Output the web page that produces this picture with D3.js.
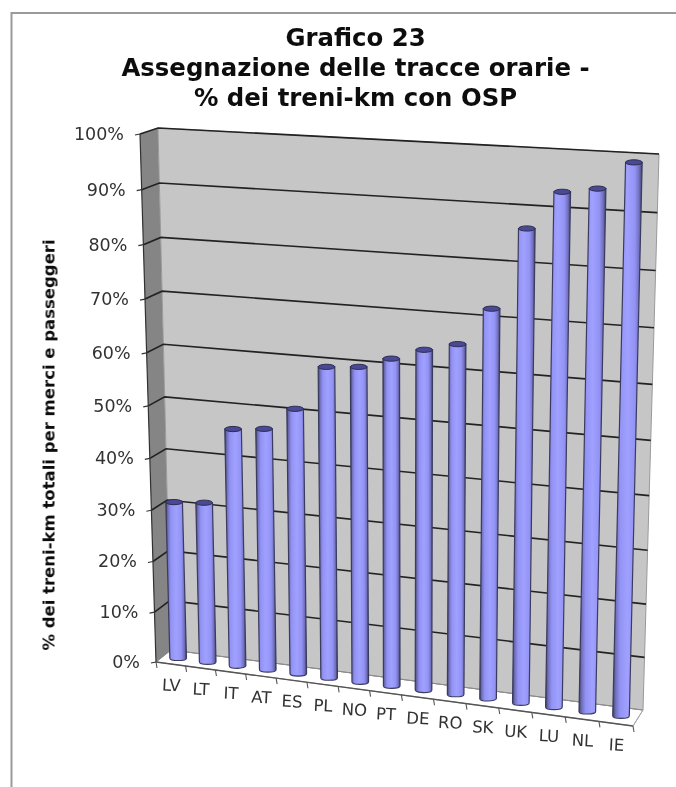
<!DOCTYPE html>
<html><head><meta charset="utf-8">
<script src="https://cdn.jsdelivr.net/npm/d3@7"></script>
<style>html,body{margin:0;padding:0;background:#fff}svg{display:block}</style>
</head><body><div id="c"></div>
<script>
const categories = ["LV","LT","IT","AT","ES","PL","NO","PT","DE","RO","SK","UK","LU","NL","IE"];
const values = [30.9,31.4,46.1,46.7,51,59.3,59.8,61.8,63.9,65.4,72.2,86.7,93.4,94.3,99.1];
const yTicks = [0,10,20,30,40,50,60,70,80,90,100];
const titleLines = ["Grafico 23","Assegnazione delle tracce orarie -","% dei treni-km con OSP"];
const yTitle = "% dei treni-km totali per merci e passeggeri";

const W=676,H=787;
const FONT="'DejaVu Sans',Verdana,sans-serif";
const svg=d3.select("#c").append("svg").attr("width",W).attr("height",H);
const defs=svg.append("defs");
defs.append("filter").attr("id","soft").attr("x","-5%").attr("y","-5%").attr("width","110%").attr("height","110%")
  .append("feGaussianBlur").attr("stdDeviation",0.6);
const grad=defs.append("linearGradient").attr("id","cyl");
[[0,"#3f3f66"],[0.1,"#6f6fbb"],[0.25,"#9393f5"],[0.5,"#a0a0ff"],[0.75,"#9393f5"],[0.9,"#6f6fbb"],[1,"#3f3f66"]].forEach(s=>grad.append("stop").attr("offset",s[0]).attr("stop-color",s[1]));

const root=svg.append("g").attr("filter","url(#soft)");

// frame
root.append("path").attr("d","M11.5,800V13H690").attr("fill","none").attr("stroke","#9a9a9a").attr("stroke-width",2);

// scales
const v=d3.scaleLinear().domain([0,100]).range([0,1]);
const u=d3.scaleBand().domain(categories).range([0,1]);
const warpU=t=>t-0.076*t*(1-t); // foreshortening along the category axis
const warpV=t=>t-0.06*t*(1-t);  // foreshortening along the value axis
const planes={
  back:{bl:[171,650],br:[643,710],tl:[158,128],tr:[659,154]},
  front:{bl:[156,662],br:[633,726],tl:[140,134],tr:[640,160]},
  bars:{bl:[163.5,656],br:[638,718],tl:[149,131],tr:[652,158]}
};
const lerp=(a,b,t)=>[a[0]+(b[0]-a[0])*t,a[1]+(b[1]-a[1])*t];
function pt(pl,uu,val){
  const p=planes[pl], w=warpU(uu);
  return lerp(lerp(p.bl,p.br,w),lerp(p.tl,p.tr,w),warpV(v(val)));
}
const line=d3.line();

// floor
root.append("path").attr("d",line([pt("front",0,0),pt("back",0,0),pt("back",1,0),pt("front",1,0)])+"Z")
  .attr("fill","#fff").attr("stroke","#9a9a9a").attr("stroke-width",1);
// side wall
root.append("path").attr("d",line([pt("front",0,0),pt("back",0,0),pt("back",0,100),pt("front",0,100)])+"Z")
  .attr("fill","#858585").attr("stroke","none");
// back wall
root.append("path").attr("d",line([pt("back",0,0),pt("back",1,0),pt("back",1,100),pt("back",0,100)])+"Z")
  .attr("fill","#c6c6c6").attr("stroke","#9a9a9a").attr("stroke-width",1);

// gridlines
const grid=root.append("g");
yTicks.forEach(t=>{
  grid.append("path").attr("d",line([pt("front",0,t),pt("back",0,t),pt("back",1,t)]))
    .attr("fill","none").attr("stroke",t===0?"#8a8a8a":"#222").attr("stroke-width",t===0?1:1.6);
});
// axes
root.append("path").attr("d",line([pt("front",0,0),pt("front",0,100)])).attr("stroke","#333").attr("stroke-width",1.2).attr("fill","none");
root.append("path").attr("d",line([pt("front",0,0),pt("front",1,0)])).attr("stroke","#555").attr("stroke-width",1.4).attr("fill","none");
root.append("path").attr("d",line([pt("back",1,0),pt("front",1,0)])).attr("stroke","#aaa").attr("stroke-width",1).attr("fill","none");

// y ticks + labels
const txt=svg.append("g").attr("filter","url(#soft)");
yTicks.forEach(t=>{
  const [x,y]=pt("front",0,t);
  root.append("path").attr("d",`M${x-5},${y+1}L${x},${y}`).attr("stroke","#333").attr("stroke-width",1.2);
  txt.append("text").attr("x",x-16).attr("y",y+1).attr("text-anchor","end").attr("dominant-baseline","middle")
    .attr("font-family",FONT).attr("font-size",17.5).attr("fill","#333").text(t+"%");
});

// x ticks + labels
d3.range(categories.length+1).forEach(i=>{
  const [x,y]=pt("front",i/categories.length,0);
  root.append("path").attr("d",`M${x},${y}l1,6`).attr("stroke","#555").attr("stroke-width",1.1);
});
categories.forEach(c=>{
  const [xc,yc]=pt("front",u(c)+u.bandwidth()/2,0);
  const lx=xc+0.5, ly=yc+22.5;
  txt.append("text").attr("x",lx).attr("y",ly).attr("text-anchor","middle").attr("dominant-baseline","middle")
    .attr("font-family",FONT).attr("font-size",16.5).attr("fill","#333")
    .attr("transform",`rotate(3 ${lx} ${ly})`).text(c);
});

// bars
const rx=8.3, ry=2.6;
const bars=root.append("g");
categories.forEach((c,i)=>{
  const uc=u(c)+u.bandwidth()/2;
  const b=pt("bars",uc,0), t=pt("bars",uc,values[i]);
  const d=`M${b[0]-rx},${b[1]}L${t[0]-rx},${t[1]}L${t[0]+rx},${t[1]}L${b[0]+rx},${b[1]}A${rx},${ry} 0 0 1 ${b[0]-rx},${b[1]}Z`;
  const g=bars.append("g");
  g.append("path").attr("d",d).attr("fill","url(#cyl)").attr("stroke","#3a3a60").attr("stroke-width",1.2);
  g.append("ellipse").attr("cx",t[0]).attr("cy",t[1]).attr("rx",rx).attr("ry",ry)
    .attr("fill","#4a4a96").attr("stroke","#2c2c50").attr("stroke-width",1);
});

// titles
titleLines.forEach((s,i)=>{
  txt.append("text").attr("x",355.5).attr("y",[46,76,106][i]).attr("text-anchor","middle")
    .attr("font-family",FONT).attr("font-weight","bold").attr("font-size",24.4).attr("fill","#111").text(s);
});
txt.append("text").attr("transform","translate(54.5,445) rotate(-90)").attr("text-anchor","middle")
  .attr("font-family",FONT).attr("font-weight","bold").attr("font-size",16.5).attr("fill","#111").text(yTitle);
</script></body></html>
